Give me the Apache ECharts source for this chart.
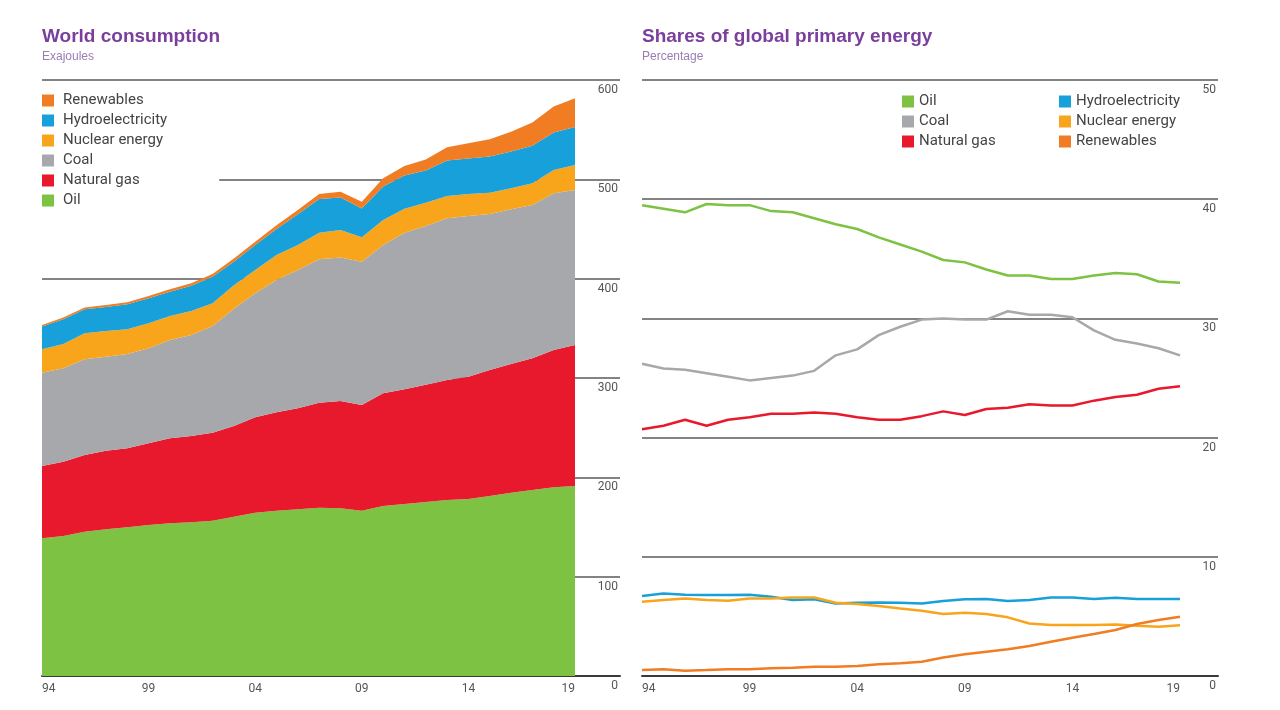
<!DOCTYPE html>
<html>
<head>
<meta charset="utf-8">
<script src="https://cdn.jsdelivr.net/npm/echarts@6/dist/echarts.min.js"></script>
<style>
  html, body { margin: 0; padding: 0; background: #fff; }
  #chart { width: 1280px; height: 710px; }
</style>
</head>
<body>
<div id="chart"></div>
<script>
// years on the x axis
const years = [1994, 1995, 1996, 1997, 1998, 1999, 2000, 2001, 2002, 2003, 2004, 2005, 2006,
  2007, 2008, 2009, 2010, 2011, 2012, 2013, 2014, 2015, 2016, 2017, 2018, 2019]

// world consumption, exajoules
const oilEJ = [138.6, 140.9, 145.3, 147.7, 149.7, 152.0, 153.7, 154.7, 156.4, 160.4, 164.4, 166.4, 167.8,
  169.4, 168.8, 166.4, 171.1, 173.2, 175.2, 177.2, 178.2, 181.2, 184.5, 187.3, 190.0, 191.3]
const gasEJ = [72.8, 74.8, 77.2, 79.1, 79.5, 82.3, 85.6, 86.9, 88.6, 91.3, 96.0, 99.1, 101.7,
  105.7, 108.1, 106.4, 113.5, 115.4, 118.1, 120.8, 123.1, 126.8, 129.6, 132.5, 138.2, 141.9]
const coalEJ = [94.0, 94.1, 96.3, 94.7, 95.0, 95.6, 99.0, 101.7, 107.4, 118.0, 124.9, 133.2, 139.2,
  144.4, 144.3, 144.3, 149.3, 157.7, 159.7, 162.8, 161.8, 157.1, 155.7, 154.4, 157.7, 156.0]
const nuclearEJ = [23.5, 24.4, 26.2, 25.8, 24.8, 25.2, 24.1, 24.2, 22.8, 23.6, 23.4, 25.1, 25.2,
  26.8, 27.8, 24.5, 25.2, 24.2, 23.5, 22.4, 22.1, 21.5, 21.2, 21.8, 23.5, 25.2]
const hydroEJ = [22.9, 25.0, 24.2, 24.3, 25.3, 25.3, 24.5, 25.3, 26.7, 23.8, 25.1, 26.1, 31.0,
  33.9, 32.7, 29.1, 33.8, 33.4, 32.3, 35.7, 35.8, 36.3, 37.0, 37.9, 37.8, 38.2]
const renewEJ = [1.6, 1.7, 1.8, 1.9, 2.0, 2.2, 2.4, 2.5, 2.8, 3.1, 3.4, 3.8, 4.3,
  5.0, 5.9, 6.8, 8.1, 9.5, 11.2, 13.3, 15.3, 17.4, 20.0, 23.2, 26.0, 29.0]

// shares of global primary energy, percent
const oilPct = [39.5, 39.2, 38.9, 39.6, 39.5, 39.5, 39.0, 38.9, 38.4, 37.9, 37.5, 36.8, 36.2,
  35.6, 34.9, 34.7, 34.1, 33.6, 33.6, 33.3, 33.3, 33.6, 33.8, 33.7, 33.1, 33.0]
const coalPct = [26.2, 25.8, 25.7, 25.4, 25.1, 24.8, 25.0, 25.2, 25.6, 26.9, 27.4, 28.6, 29.3,
  29.9, 30.0, 29.9, 29.9, 30.6, 30.3, 30.3, 30.1, 29.0, 28.2, 27.9, 27.5, 26.9]
const gasPct = [20.7, 21.0, 21.5, 21.0, 21.5, 21.7, 22.0, 22.0, 22.1, 22.0, 21.7, 21.5, 21.5,
  21.8, 22.2, 21.9, 22.4, 22.5, 22.8, 22.7, 22.7, 23.1, 23.4, 23.6, 24.1, 24.3]
const hydroPct = [6.71, 6.93, 6.82, 6.79, 6.79, 6.82, 6.65, 6.37, 6.43, 6.09, 6.15, 6.17, 6.15,
  6.09, 6.29, 6.43, 6.45, 6.29, 6.37, 6.59, 6.59, 6.45, 6.57, 6.45, 6.45, 6.45]
const nuclearPct = [6.23, 6.37, 6.51, 6.37, 6.31, 6.51, 6.51, 6.59, 6.59, 6.15, 6.04, 5.87, 5.67,
  5.48, 5.2, 5.31, 5.2, 4.92, 4.41, 4.27, 4.27, 4.27, 4.33, 4.22, 4.13, 4.25]
const renewPct = [0.5, 0.56, 0.45, 0.5, 0.56, 0.56, 0.64, 0.7, 0.78, 0.78, 0.84, 0.98, 1.06,
  1.2, 1.56, 1.82, 2.04, 2.24, 2.51, 2.88, 3.21, 3.52, 3.86, 4.36, 4.69, 4.97]

const colors = {
  'Oil': '#7DC242',
  'Natural gas': '#E8192C',
  'Coal': '#A7A8AB',
  'Nuclear energy': '#F8A51B',
  'Hydroelectricity': '#17A0DA',
  'Renewables': '#F07D23'
}

const font = 'Roboto, "Liberation Sans", sans-serif'
const titleFont = '"Liberation Sans", Arial, sans-serif'
const purple = '#7A3E9D'
const gridTop = 80
const gridBottom = 34

const yearLabel = {
  color: '#555',
  fontSize: 12,
  fontFamily: font,
  margin: 7,
  interval: 4,
  alignMinLabel: 'left',
  alignMaxLabel: 'right',
  formatter: v => String(v).slice(2)
}

// background axes: grid lines and tick labels run past the data to the label column
const bgYAxis = (gridIndex, max, interval) => ({
  gridIndex,
  type: 'value',
  position: 'right',
  min: 0,
  max,
  interval,
  axisLine: { show: false },
  axisTick: { show: false },
  splitLine: { lineStyle: { color: '#5a5a5a', width: 1.5 } },
  axisLabel: {
    inside: true,
    margin: 2,
    color: '#555',
    fontSize: 12,
    fontFamily: font,
    verticalAlign: 'top',
    padding: [4, 0, 0, 0]
  }
})
const bgXAxis = gridIndex => ({
  gridIndex,
  type: 'value',
  min: 0,
  max: 1,
  axisLine: { lineStyle: { color: '#3a3a3a', width: 2 } },
  axisTick: { show: false },
  axisLabel: { show: false },
  splitLine: { show: false }
})
const dataYAxis = (gridIndex, max) => ({ gridIndex, type: 'value', min: 0, max, show: false })
const dataXAxis = gridIndex => ({
  gridIndex,
  type: 'category',
  boundaryGap: false,
  data: years,
  axisLine: { show: false },
  axisTick: { show: false },
  axisLabel: yearLabel
})

const areaSeries = (name, data) => ({
  name,
  type: 'line',
  stack: 'world',
  xAxisIndex: 1,
  yAxisIndex: 1,
  data,
  color: colors[name],
  symbol: 'none',
  lineStyle: { width: 0 },
  areaStyle: { color: colors[name], opacity: 1 }
})
const shareSeries = (name, data) => ({
  name,
  type: 'line',
  xAxisIndex: 3,
  yAxisIndex: 3,
  data,
  color: colors[name],
  symbol: 'none',
  lineStyle: { width: 2.5, color: colors[name] }
})

const legendText = { color: '#444', fontSize: 15, fontFamily: font, lineHeight: 14 }
const titleStyle = { color: purple, fontSize: 19, fontWeight: 'bold', fontFamily: titleFont }
const subStyle = { color: '#9A7DB5', fontSize: 12, fontFamily: titleFont }

const option = {
  animation: false,
  title: [
    { text: 'World consumption', subtext: 'Exajoules', left: 37, top: 22, itemGap: 5, textStyle: titleStyle, subtextStyle: subStyle },
    { text: 'Shares of global primary energy', subtext: 'Percentage', left: 637, top: 22, itemGap: 5, textStyle: titleStyle, subtextStyle: subStyle }
  ],
  legend: [
    {
      orient: 'vertical',
      left: 42,
      top: 89,
      padding: [4, 52, 4, 0],
      backgroundColor: '#fff',
      itemWidth: 12,
      itemHeight: 12,
      itemGap: 5,
      icon: 'rect',
      textStyle: { ...legendText, padding: [0, 0, 0, 4] },
      data: ['Renewables', 'Hydroelectricity', 'Nuclear energy', 'Coal', 'Natural gas', 'Oil']
    },
    {
      orient: 'vertical',
      left: 897,
      top: 89,
      itemWidth: 12,
      itemHeight: 12,
      itemGap: 5,
      icon: 'rect',
      textStyle: legendText,
      data: ['Oil', 'Coal', 'Natural gas']
    },
    {
      orient: 'vertical',
      left: 1054,
      top: 89,
      itemWidth: 12,
      itemHeight: 12,
      itemGap: 5,
      icon: 'rect',
      textStyle: legendText,
      data: ['Hydroelectricity', 'Nuclear energy', 'Renewables']
    }
  ],
  grid: [
    { left: 42, right: 660, top: gridTop, bottom: gridBottom },
    { left: 42, right: 705, top: gridTop, bottom: gridBottom },
    { left: 642, right: 62, top: gridTop, bottom: gridBottom },
    { left: 642, right: 100, top: gridTop, bottom: gridBottom }
  ],
  xAxis: [bgXAxis(0), dataXAxis(1), bgXAxis(2), dataXAxis(3)],
  yAxis: [bgYAxis(0, 600, 100), dataYAxis(1, 600), bgYAxis(2, 50, 10), dataYAxis(3, 50)],
  series: [
    areaSeries('Oil', oilEJ),
    areaSeries('Natural gas', gasEJ),
    areaSeries('Coal', coalEJ),
    areaSeries('Nuclear energy', nuclearEJ),
    areaSeries('Hydroelectricity', hydroEJ),
    areaSeries('Renewables', renewEJ),
    shareSeries('Oil', oilPct),
    shareSeries('Coal', coalPct),
    shareSeries('Natural gas', gasPct),
    shareSeries('Hydroelectricity', hydroPct),
    shareSeries('Nuclear energy', nuclearPct),
    shareSeries('Renewables', renewPct)
  ]
}

const myChart = echarts.init(document.getElementById('chart'))
myChart.setOption(option)
</script>
</body>
</html>
